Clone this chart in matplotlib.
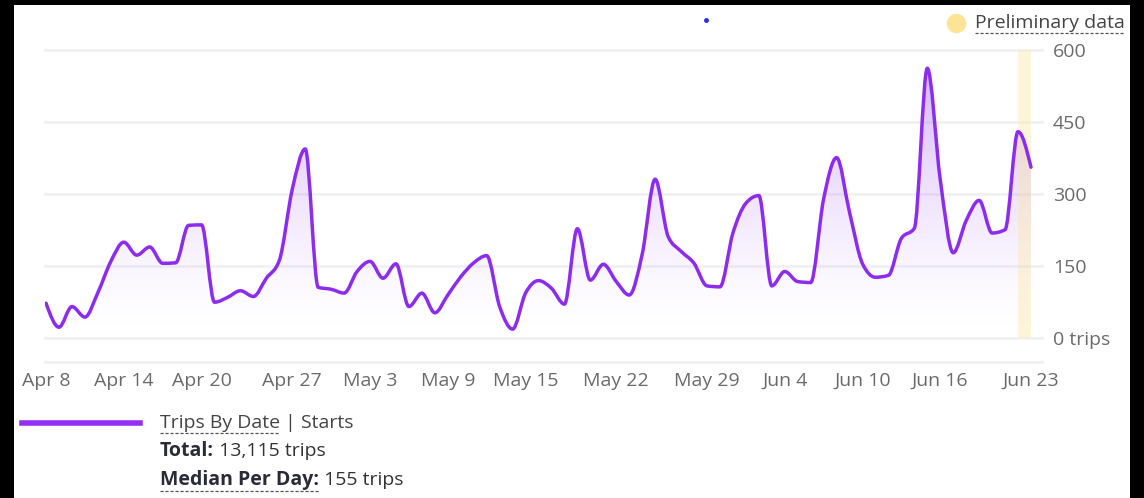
import numpy as np
import pandas as pd
import matplotlib
matplotlib.use("Agg")
import matplotlib.pyplot as plt
import matplotlib.dates as mdates
from matplotlib.path import Path
from matplotlib.patches import PathPatch, Rectangle
from matplotlib.lines import Line2D

plt.rcParams["font.family"] = ["Open Sans", "DejaVu Sans"]

# daily trip starts, Apr 8 .. Jun 23
dates = pd.date_range("2024-04-08", "2024-06-23", freq="D")
trips = [
    73, 23, 66, 44, 95, 160, 200, 173, 190, 156, 157, 235, 236, 75, 85, 99, 87,
    125, 162, 310, 394, 106, 102,
    94, 139, 160, 125, 155, 66, 94, 53, 90, 128, 157, 172, 66, 19, 94, 120, 104,
    71, 228, 121, 154, 118, 90, 175, 331, 212, 181, 156, 109, 107, 219,
    281, 297, 109, 139, 118, 116, 290, 376, 262, 155, 127, 131, 208, 229, 562,
    330, 178, 245, 287, 219, 226, 430, 356,
]
tick_labels = ["Apr 8", "Apr 14", "Apr 20", "Apr 27", "May 3", "May 9", "May 15",
               "May 22", "May 29", "Jun 4", "Jun 10", "Jun 16", "Jun 23"]
yticks = [0, 150, 300, 450, 600]
ytick_labels = ["0 trips", "150", "300", "450", "600"]
total_trips = "13,115"
median_trips = 155
prelim_days = 1

line_color = "#8c2cf0"
grid_color = "#f1f1f3"
tick_color = "#6b6b6b"
fs = 14


def monotone_path(x, y):
    # same shape as d3 curveMonotoneX
    x = np.asarray(x, float)
    y = np.asarray(y, float)
    n = len(x)
    h = np.diff(x)
    s = np.diff(y) / h
    t = np.zeros(n)
    for i in range(1, n - 1):
        p = (s[i - 1] * h[i] + s[i] * h[i - 1]) / (h[i - 1] + h[i])
        t[i] = (np.sign(s[i - 1]) + np.sign(s[i])) * min(abs(s[i - 1]), abs(s[i]), 0.5 * abs(p))
    t[0] = (3 * s[0] - t[1]) / 2
    t[-1] = (3 * s[-1] - t[-2]) / 2
    verts = [(x[0], y[0])]
    codes = [Path.MOVETO]
    for i in range(n - 1):
        dx = h[i] / 3
        verts += [(x[i] + dx, y[i] + dx * t[i]), (x[i + 1] - dx, y[i + 1] - dx * t[i + 1]), (x[i + 1], y[i + 1])]
        codes += [Path.CURVE4] * 3
    return verts, codes


xs = mdates.date2num(dates)

fig = plt.figure(figsize=(11.44, 4.98), dpi=100, facecolor="black")
fig.patches.append(Rectangle((14 / 1144, 0), (1130 - 14) / 1144, 493 / 498,
                             transform=fig.transFigure, facecolor="white", edgecolor="none", zorder=-5))

ax = fig.add_axes([45 / 1144, (498 - 362) / 498, 997 / 1144, 312 / 498])
ax.set_facecolor("none")
ax.set_xlim(xs[0] - 0.08, xs[-1] + 0.85)
ax.set_ylim(-49.4, 600)

for v in yticks:
    ax.axhline(v, color=grid_color, lw=2, zorder=0, clip_on=False)
ax.axhline(-49.4, color=grid_color, lw=2, zorder=0, clip_on=False)

verts, codes = monotone_path(xs, trips)

# gradient fill under the curve
area = Path(verts + [(xs[-1], 0), (xs[0], 0), (xs[0], 0)],
            codes + [Path.LINETO, Path.LINETO, Path.CLOSEPOLY])
clip = PathPatch(area, facecolor="none", edgecolor="none", transform=ax.transData)
ax.add_patch(clip)
lev = np.linspace(0, 1, 256)
grad = np.zeros((256, 1, 4))
grad[:, 0, :3] = matplotlib.colors.to_rgb("#9b4cf5")
grad[:, 0, 3] = 0.45 * lev ** 1.5
im = ax.imshow(grad, extent=[xs[0], xs[-1], 0, 600], origin="lower", aspect="auto",
               interpolation="bilinear", zorder=1)
im.set_clip_path(clip)

# preliminary data band
ax.fill_between([xs[-1 - prelim_days], xs[-1]], 0, 600, color="#fbe6a4", alpha=0.4,
                lw=0, zorder=2)

ax.add_patch(PathPatch(Path(verts, codes), facecolor="none", edgecolor=line_color,
                       lw=2.5, zorder=3, capstyle="round", joinstyle="round"))

for sp in ax.spines.values():
    sp.set_visible(False)

ax.yaxis.tick_right()
ax.set_yticks(yticks)
ax.set_yticklabels(ytick_labels)
tick_pos = [mdates.date2num(pd.to_datetime(lbl + " 2024", format="%b %d %Y")) for lbl in tick_labels]
ax.set_xticks(tick_pos)
ax.set_xticklabels(tick_labels)
ax.tick_params(axis="both", length=0, labelsize=fs, colors=tick_color)
ax.tick_params(axis="y", pad=8)
ax.tick_params(axis="x", pad=7)

# top right legend
fig.lines.append(Line2D([956 / 1144], [(498 - 23) / 498], marker="o", ms=13, color="#fde495",
                        transform=fig.transFigure, lw=0))
fig.lines.append(Line2D([706 / 1144], [(498 - 20) / 498], marker="o", ms=2.5, color="#2a2af0",
                        transform=fig.transFigure, lw=0))
t_pre = fig.text(975 / 1144, (498 - 23) / 498, "Preliminary data", fontsize=fs, color="#444444",
                 va="center", ha="left")

# bottom legend
fig.lines.append(Line2D([22 / 1144, 140 / 1144], [(498 - 423) / 498] * 2, color="#9430f5", lw=4,
                        transform=fig.transFigure))
t_series = fig.text(160 / 1144, (498 - 423) / 498, "Trips By Date", fontsize=fs, color="#444444",
                    va="center", ha="left")
ax.annotate(" | Starts", xy=(1, 0.5), xycoords=t_series, va="center", ha="left",
            fontsize=fs, color="#444444")
t_total = fig.text(160 / 1144, (498 - 451) / 498, "Total:", fontsize=fs, color="#2a2a38",
                   fontweight="bold", va="center", ha="left")
ax.annotate(" " + total_trips + " trips", xy=(1, 0.5), xycoords=t_total, va="center", ha="left",
            fontsize=fs, color="#333333")
t_med = fig.text(160 / 1144, (498 - 480) / 498, "Median Per Day:", fontsize=fs, color="#2a2a38",
                 fontweight="bold", va="center", ha="left")
ax.annotate(" %d trips" % median_trips, xy=(1, 0.5), xycoords=t_med, va="center", ha="left",
            fontsize=fs, color="#333333")

# dashed underlines
fig.canvas.draw()
r = fig.canvas.get_renderer()
for t in [t_pre, t_series, t_med]:
    bb = t.get_window_extent(r)
    yline = bb.y0 - 1
    fig.lines.append(Line2D([bb.x0 / 1144, bb.x1 / 1144], [yline / 498] * 2, color="#555555",
                            lw=0.9, ls=(0, (2.5, 1.5)), transform=fig.transFigure))

fig.savefig("out.png", dpi=100, facecolor=fig.get_facecolor())
